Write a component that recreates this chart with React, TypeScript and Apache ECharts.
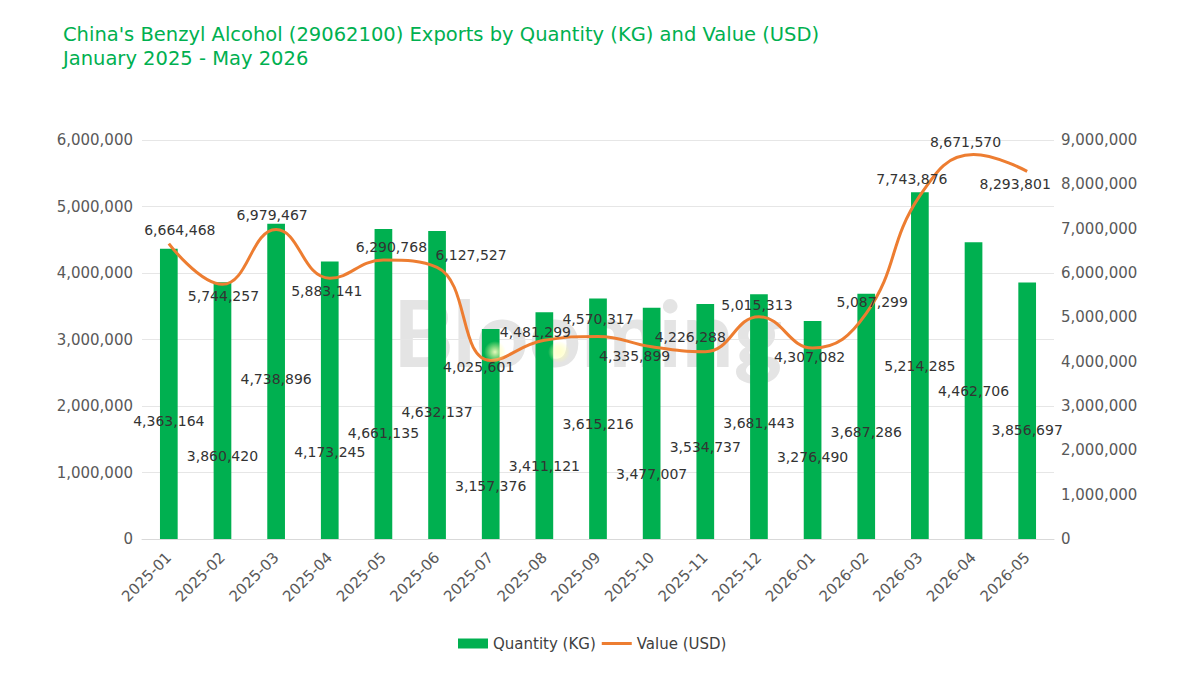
import React, { useEffect, useRef } from "react";
import * as echarts from "echarts";

const categories = [
  "2025-01", "2025-02", "2025-03", "2025-04", "2025-05", "2025-06", "2025-07", "2025-08", "2025-09",
  "2025-10", "2025-11", "2025-12", "2026-01", "2026-02", "2026-03", "2026-04", "2026-05",
];
const quantityKg = [
  4363164, 3860420, 4738896, 4173245, 4661135, 4632137, 3157376, 3411121, 3615216,
  3477007, 3534737, 3681443, 3276490, 3687286, 5214285, 4462706, 3856697,
];
const valueUsd = [
  6664468, 5744257, 6979467, 5883141, 6290768, 6127527, 4025601, 4481299, 4570317,
  4335899, 4226288, 5015313, 4307082, 5087299, 7743876, 8671570, 8293801,
];
const leftTicks = { min: 0, max: 6000000, interval: 1000000 };
const rightTicks = { min: 0, max: 9000000, interval: 1000000 };

// label placement (pixel offsets, styling only)
const qtyLabelDy = [27, 45, -2, 52, 49, 27, 52, 40, 5, 51, 26, 6, 27, 16, 0, 0, 19];
const valLabelOffset: [number, number][] = [
  [11, -14], [1, 12], [-4, -15], [-3, 13], [8, -13], [34, -12], [-12, 6], [-9, -8], [0, -17],
  [-17, 9], [-15, -15], [-2, -12], [-3, 9], [6, -11], [-8, -17], [-8, -13], [-12, 13],
];

const FONT = "DejaVu Sans";
const fmt = (v: number) => v.toLocaleString("en-US");

export default function App() {
  const ref = useRef<HTMLDivElement>(null);
  useEffect(() => {
    if (!ref.current) return;
    const chart = echarts.init(ref.current, undefined, { renderer: "svg" });
    const glow = () =>
      new echarts.graphic.RadialGradient(0.5, 0.5, 0.5, [
        { offset: 0, color: "rgba(255,255,200,0.9)" },
        { offset: 1, color: "rgba(255,255,150,0)" },
      ]);
    chart.setOption({
      animation: false,
      backgroundColor: "#ffffff",
      textStyle: { fontFamily: FONT },
      title: {
        text: "China's Benzyl Alcohol (29062100) Exports by Quantity (KG) and Value (USD)\nJanuary 2025 - May 2026",
        left: 58,
        top: 17,
        textStyle: { color: "#00b050", fontSize: 19.5, fontWeight: "normal", fontFamily: FONT, lineHeight: 24 },
      },
      legend: {
        bottom: 19,
        left: 453,
        itemGap: 6,
        itemWidth: 30,
        itemHeight: 10,
        textStyle: { color: "#404040", fontSize: 15, fontFamily: FONT },
        data: [
          { name: "Quantity (KG)", icon: "rect" },
          { name: "Value (USD)", icon: "path://M0,4L30,4L30,7L0,7Z" },
        ],
      },
      graphic: [
        {
          type: "text",
          left: 393,
          top: 285,
          z: 0,
          style: { text: "Blooming", fill: "#e4e4e4", font: "bold 92px Lato" },
        },
        { type: "circle", shape: { cx: 495, cy: 352, r: 11 }, z: 10, style: { fill: glow() } },
        { type: "circle", shape: { cx: 559, cy: 352, r: 11 }, z: 10, style: { fill: glow() } },
      ],
      grid: { left: 142, right: 146, top: 140, bottom: 136, containLabel: false },
      xAxis: {
        type: "category",
        data: categories,
        axisLine: { show: true, lineStyle: { color: "#d9d9d9", width: 1 } },
        axisTick: { show: false },
        axisLabel: { rotate: 45, color: "#595959", fontSize: 15, fontFamily: FONT, margin: 16 },
      },
      yAxis: [
        {
          type: "value",
          ...leftTicks,
          axisLine: { show: false },
          axisTick: { show: false },
          splitLine: { lineStyle: { color: "#e6e6e6", width: 1 } },
          axisLabel: { color: "#595959", fontSize: 15, fontFamily: FONT, margin: 9, formatter: (v: number) => fmt(v) },
        },
        {
          type: "value",
          ...rightTicks,
          axisLine: { show: false },
          axisTick: { show: false },
          splitLine: { show: false },
          axisLabel: { color: "#595959", fontSize: 15, fontFamily: FONT, margin: 7, formatter: (v: number) => fmt(v) },
        },
      ],
      series: [
        {
          name: "Quantity (KG)",
          type: "bar",
          yAxisIndex: 0,
          barWidth: "33%",
          itemStyle: { color: "#00b050" },
          label: {
            show: true,
            position: "inside",
            color: "#333333",
            fontSize: 14,
            fontFamily: FONT,
            formatter: (p: any) => fmt(p.value),
          },
          data: quantityKg.map((v, i) => ({ value: v, label: { offset: [0, qtyLabelDy[i]] } })),
        },
        {
          name: "Value (USD)",
          type: "line",
          yAxisIndex: 1,
          smooth: 0.45,
          symbol: "circle",
          symbolSize: 0,
          itemStyle: { color: "#ed7d31" },
          lineStyle: { color: "#ed7d31", width: 3 },
          label: {
            show: true,
            position: "inside",
            color: "#333333",
            fontSize: 14,
            fontFamily: FONT,
            formatter: (p: any) => fmt(p.value),
          },
          data: valueUsd.map((v, i) => ({ value: v, label: { offset: valLabelOffset[i] } })),
        },
      ],
    });
    return () => chart.dispose();
  }, []);
  return <div ref={ref} style={{ width: 1200, height: 675, position: "absolute", left: 0, top: 0 }} />;
}
